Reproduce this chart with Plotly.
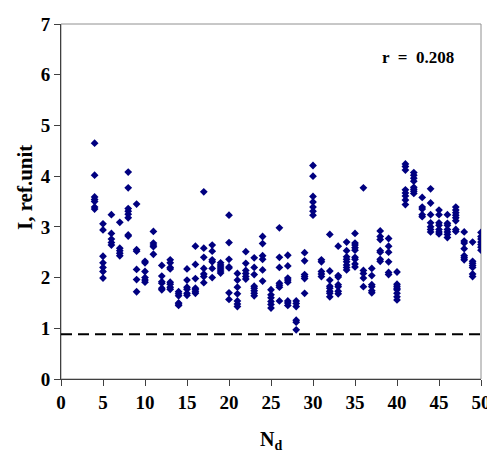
import plotly.graph_objects as go

# Values of I (ref. unit) for each N_d, grouped by range
n_values_a = [4, 5, 6, 7, 8, 9, 10, 11, 12, 13, 14, 15]
i_values_a = [
    [4.65, 4.02, 3.59, 3.54, 3.50, 3.39, 3.35],
    [3.06, 2.94, 2.42, 2.29, 2.20, 2.12, 1.99],
    [3.24, 2.87, 2.76, 2.69, 2.64],
    [3.09, 2.58, 2.53, 2.48, 2.43],
    [4.08, 3.77, 3.36, 3.31, 3.25, 3.18, 2.84, 2.82],
    [3.45, 2.55, 2.52, 2.16, 1.96, 1.72],
    [2.32, 2.29, 2.12, 2.00, 1.95, 1.91],
    [2.91, 2.68, 2.64, 2.61, 2.46],
    [2.24, 2.03, 1.92, 1.89, 1.79, 1.76],
    [2.35, 2.29, 2.20, 2.17, 1.91, 1.87, 1.81, 1.77],
    [1.72, 1.68, 1.64, 1.50, 1.48, 1.45],
    [2.17, 1.95, 1.81, 1.77, 1.69, 1.65],
]

n_values_b = [16, 17, 18, 19, 20, 21, 22, 23, 24, 25, 26, 27]
i_values_b = [
    [2.62, 2.26, 1.98, 1.79, 1.76, 1.72, 1.69],
    [3.69, 2.58, 2.40, 2.18, 2.07, 2.02, 1.90],
    [2.64, 2.52, 2.35, 2.31, 2.18, 2.00],
    [2.29, 2.25, 2.21, 2.17, 2.13, 2.09],
    [3.23, 2.69, 2.36, 2.21, 2.19, 1.70, 1.57],
    [2.08, 1.95, 1.81, 1.68, 1.54, 1.48, 1.43],
    [2.51, 2.28, 2.14, 2.08, 2.02, 1.97],
    [2.39, 2.20, 2.06, 1.83, 1.79, 1.74, 1.69, 1.64],
    [2.81, 2.67, 2.43, 2.36, 2.15, 1.93],
    [1.76, 1.66, 1.60, 1.53, 1.47, 1.40],
    [2.98, 2.40, 2.20, 1.89, 1.85, 1.81, 1.54],
    [2.44, 2.23, 1.99, 1.95, 1.91, 1.54, 1.50, 1.45],
]

n_values_c = [28, 29, 30, 31, 32, 33, 34, 35, 36, 37, 38, 39]
i_values_c = [
    [1.54, 1.49, 1.43, 1.16, 1.12, 0.97],
    [2.49, 2.33, 2.06, 2.02, 1.98, 1.69],
    [4.21, 4.00, 3.60, 3.49, 3.39, 3.31, 3.23],
    [2.35, 2.31, 2.12, 2.07, 2.02],
    [2.85, 2.13, 1.95, 1.83, 1.79, 1.73, 1.69, 1.62],
    [2.62, 2.04, 2.01, 1.86, 1.82, 1.73, 1.68],
    [2.70, 2.53, 2.41, 2.36, 2.31, 2.25, 2.20, 2.15],
    [2.87, 2.68, 2.64, 2.59, 2.54, 2.40, 2.36, 2.27, 2.21],
    [3.77, 2.14, 2.08, 1.99, 1.82],
    [2.18, 2.04, 1.86, 1.82, 1.74, 1.70],
    [2.92, 2.81, 2.75, 2.53, 2.50, 2.36, 2.32],
    [2.77, 2.62, 2.50, 2.31, 2.10, 2.06],
]

n_values_d = [40, 41, 42, 43, 44, 45, 46, 47, 48, 49, 50]
i_values_d = [
    [2.11, 1.87, 1.83, 1.79, 1.76, 1.69, 1.62, 1.56],
    [4.24, 4.19, 4.12, 3.73, 3.67, 3.61, 3.53, 3.44],
    [4.07, 4.02, 3.96, 3.90, 3.78, 3.74, 3.70, 3.66],
    [3.58, 3.39, 3.35, 3.24, 3.20],
    [3.75, 3.47, 3.24, 3.08, 3.00, 2.95, 2.90],
    [3.33, 3.24, 3.08, 3.03, 2.95, 2.90, 2.86],
    [3.24, 3.07, 3.03, 2.95, 2.90, 2.85, 2.79],
    [3.39, 3.33, 3.28, 3.23, 3.18, 3.12, 2.95, 2.91],
    [2.90, 2.72, 2.68, 2.57, 2.43, 2.39, 2.35],
    [2.70, 2.32, 2.28, 2.24, 2.20, 2.07, 2.02],
    [2.89, 2.81, 2.76, 2.70, 2.65, 2.60, 2.54],
]

threshold_level = 0.88
r_label = "r  =  0.208"
x_title = "N<sub>d</sub>"
y_title = "I, ref.unit"
x_ticks = [0, 5, 10, 15, 20, 25, 30, 35, 40, 45, 50]
y_ticks = [0, 1, 2, 3, 4, 5, 6, 7]

xs, ys = [], []
for ns, vs in [(n_values_a, i_values_a), (n_values_b, i_values_b),
               (n_values_c, i_values_c), (n_values_d, i_values_d)]:
    for n, col in zip(ns, vs):
        for v in col:
            xs.append(n)
            ys.append(v)

FONT = "Liberation Serif"
TICKFONT = dict(family=FONT, size=19, color="black", weight="bold")

# The page body adds an 8px offset (left and top), so the figure is
# 8px smaller and the left/top margins shrink accordingly.
OFF = 8
W, H = 495 - OFF, 452 - OFF
L, T = 61 - OFF, 24 - OFF
R = W - (481 - OFF)
B = H - (379 - OFF)
plot_w = W - L - R
plot_h = H - T - B


def px_to_paper(px, py):
    """Window pixel position -> paper coordinates."""
    return ((px - OFF - L) / plot_w, (H - B - (py - OFF)) / plot_h)


xt_x, xt_y = px_to_paper(271, 440)
yt_x, yt_y = px_to_paper(25, 188)
rl_x, rl_y = px_to_paper(418, 58)

fig = go.Figure()
fig.add_trace(go.Scatter(
    x=xs, y=ys, mode="markers",
    marker=dict(symbol="diamond", size=6, color="#000080",
                line=dict(width=0)),
    showlegend=False, hoverinfo="skip"))
fig.add_trace(go.Scatter(
    x=[0, 50], y=[threshold_level, threshold_level], mode="lines",
    line=dict(color="black", width=2, dash="11px,6px"),
    showlegend=False, hoverinfo="skip"))

fig.update_layout(
    width=W, height=H,
    margin=dict(l=L, r=R, t=T, b=B),
    paper_bgcolor="white", plot_bgcolor="white",
    font=dict(family=FONT, size=17, color="black", weight="bold"),
    xaxis=dict(range=[0, 50], tickvals=x_ticks, showgrid=False,
               zeroline=False, showline=True, linecolor="#404040",
               linewidth=1, ticks="outside", ticklen=6,
               tickcolor="#404040", tickfont=TICKFONT, automargin=False),
    yaxis=dict(range=[0, 7], tickvals=y_ticks, showgrid=False,
               zeroline=False, showline=True, linecolor="#404040",
               linewidth=1, ticks="outside", ticklen=6,
               tickcolor="#404040", tickfont=TICKFONT, automargin=False),
    shapes=[dict(type="rect", xref="paper", yref="paper", x0=0, x1=1,
                 y0=0, y1=1, line=dict(color="#909090", width=1),
                 layer="below")],
    annotations=[
        dict(x=rl_x, y=rl_y, xref="paper", yref="paper", text=r_label,
             showarrow=False, xanchor="center", yanchor="middle",
             font=dict(family=FONT, size=17, weight="bold")),
        dict(x=xt_x, y=xt_y, xref="paper", yref="paper", text=x_title,
             showarrow=False, xanchor="center", yanchor="middle",
             font=dict(family=FONT, size=20, weight="bold")),
        dict(x=yt_x, y=yt_y, xref="paper", yref="paper", text=y_title,
             textangle=-90, showarrow=False, xanchor="center",
             yanchor="middle",
             font=dict(family=FONT, size=21, weight="bold")),
    ],
)

fig.write_html("out.html")
